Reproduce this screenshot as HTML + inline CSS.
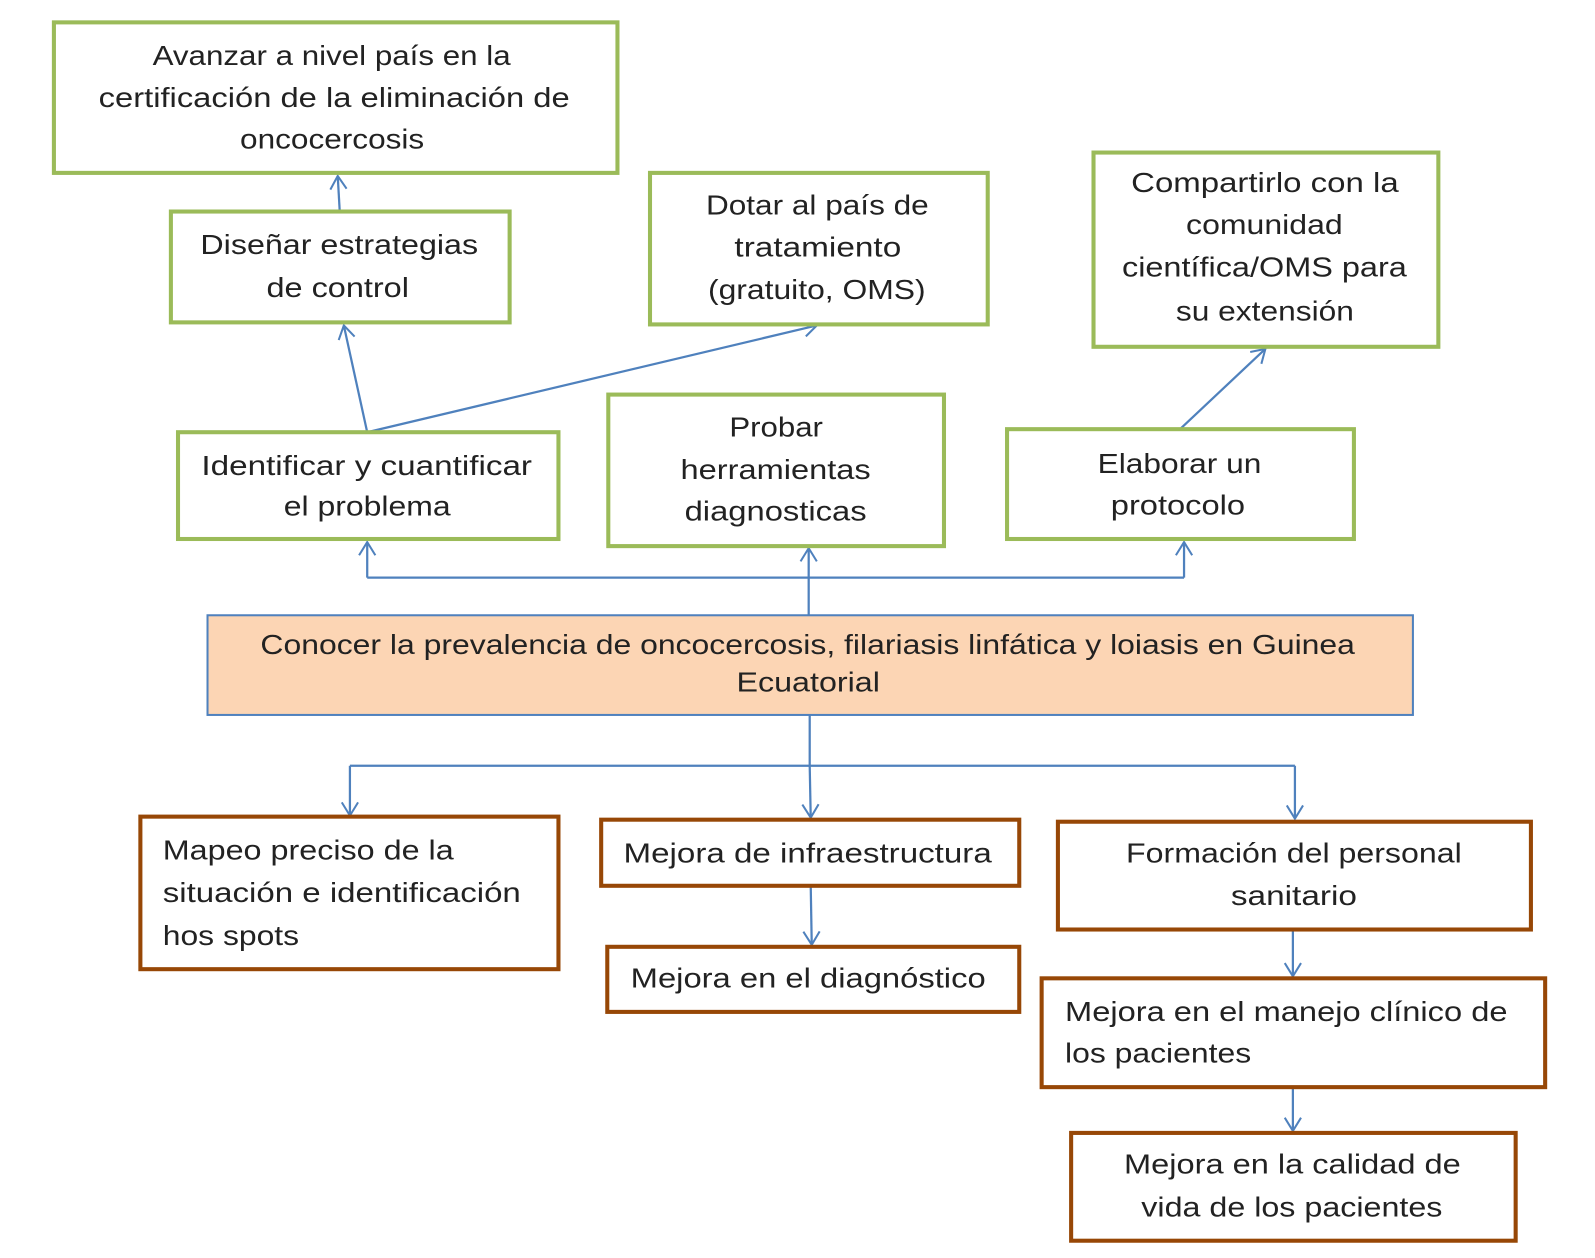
<!DOCTYPE html>
<html><head><meta charset="utf-8"><style>
html,body{margin:0;padding:0;background:#fff;}
svg{display:block;}
text{font-family:"Liberation Sans",sans-serif;font-size:27px;fill:#222;}
</style></head><body>
<svg width="1595" height="1258" viewBox="0 0 1568 1237" preserveAspectRatio="none" xmlns="http://www.w3.org/2000/svg">
<defs>
<marker id="ah" markerUnits="userSpaceOnUse" markerWidth="24" markerHeight="24" refX="14" refY="10" orient="auto">
<path d="M1,2 L14,10 L1,18" fill="none" stroke="#4f81bd" stroke-width="2"/>
</marker>
</defs>
<g fill="none" stroke="#4f81bd" stroke-width="2.2">
<line x1="334" y1="208" x2="332" y2="173" marker-end="url(#ah)"/>
<line x1="361" y1="425" x2="338" y2="320" marker-end="url(#ah)"/>
<line x1="361" y1="425" x2="803" y2="320" marker-end="url(#ah)"/>
<line x1="1160" y1="422" x2="1244" y2="343" marker-end="url(#ah)"/>
<polyline points="795,605 795,568"/>
<polyline points="361,568 1164,568"/>
<line x1="361" y1="568" x2="361" y2="533" marker-end="url(#ah)"/>
<line x1="795" y1="568" x2="795" y2="539" marker-end="url(#ah)"/>
<line x1="1164" y1="568" x2="1164" y2="533" marker-end="url(#ah)"/>
<polyline points="796,703 796,753"/>
<polyline points="344,753 1273,753"/>
<line x1="344" y1="753" x2="344" y2="802" marker-end="url(#ah)"/>
<line x1="796" y1="753" x2="797" y2="804" marker-end="url(#ah)"/>
<line x1="1273" y1="753" x2="1273" y2="805" marker-end="url(#ah)"/>
<line x1="797" y1="871" x2="798" y2="929" marker-end="url(#ah)"/>
<line x1="1271" y1="914" x2="1271" y2="960" marker-end="url(#ah)"/>
<line x1="1271" y1="1069" x2="1271" y2="1112" marker-end="url(#ah)"/>
</g>
<g fill="#fff" stroke="#9bbb59" stroke-width="4">
<rect x="53" y="22" width="554" height="148"/>
<rect x="168" y="208" width="333" height="109"/>
<rect x="639" y="170" width="332" height="149"/>
<rect x="1075" y="150" width="339" height="191"/>
<rect x="175" y="425" width="374" height="105"/>
<rect x="598" y="388" width="330" height="149"/>
<rect x="990" y="422" width="341" height="108"/>
</g>
<rect x="204" y="605" width="1185" height="98" fill="#fcd5b4" stroke="#4f81bd" stroke-width="2"/>
<g fill="#fff" stroke="#974706" stroke-width="4">
<rect x="138" y="803" width="411" height="150"/>
<rect x="591" y="806" width="411" height="65"/>
<rect x="597" y="931" width="405" height="64"/>
<rect x="1040" y="808" width="465" height="106"/>
<rect x="1024" y="962" width="495" height="107"/>
<rect x="1053" y="1114" width="437" height="106"/>
</g>
<g>
<text x="150" y="64" textLength="352" lengthAdjust="spacingAndGlyphs">Avanzar a nivel país en la</text>
<text x="97" y="105" textLength="463" lengthAdjust="spacingAndGlyphs">certificación de la eliminación de</text>
<text x="236" y="146" textLength="181" lengthAdjust="spacingAndGlyphs">oncocercosis</text>
<text x="197" y="250" textLength="273" lengthAdjust="spacingAndGlyphs">Diseñar estrategias</text>
<text x="262" y="292" textLength="140" lengthAdjust="spacingAndGlyphs">de control</text>
<text x="694" y="211" textLength="219" lengthAdjust="spacingAndGlyphs">Dotar al país de</text>
<text x="722" y="252" textLength="164" lengthAdjust="spacingAndGlyphs">tratamiento</text>
<text x="696" y="294" textLength="214" lengthAdjust="spacingAndGlyphs">(gratuito, OMS)</text>
<text x="1112" y="189" textLength="263" lengthAdjust="spacingAndGlyphs">Compartirlo  con la</text>
<text x="1166" y="230" textLength="154" lengthAdjust="spacingAndGlyphs">comunidad</text>
<text x="1103" y="272" textLength="280" lengthAdjust="spacingAndGlyphs">científica/OMS para</text>
<text x="1156" y="315" textLength="175" lengthAdjust="spacingAndGlyphs">su extensión</text>
<text x="198" y="467" textLength="325" lengthAdjust="spacingAndGlyphs">Identificar y cuantificar</text>
<text x="279" y="507" textLength="164" lengthAdjust="spacingAndGlyphs">el problema</text>
<text x="717" y="429" textLength="92" lengthAdjust="spacingAndGlyphs">Probar</text>
<text x="669" y="471" textLength="187" lengthAdjust="spacingAndGlyphs">herramientas</text>
<text x="673" y="512" textLength="179" lengthAdjust="spacingAndGlyphs">diagnosticas</text>
<text x="1079" y="465" textLength="161" lengthAdjust="spacingAndGlyphs">Elaborar un</text>
<text x="1092" y="506" textLength="132" lengthAdjust="spacingAndGlyphs">protocolo</text>
<text x="256" y="643" textLength="1076" lengthAdjust="spacingAndGlyphs">Conocer  la prevalencia de oncocercosis, filariasis linfática y loiasis en Guinea</text>
<text x="724" y="680" textLength="141" lengthAdjust="spacingAndGlyphs">Ecuatorial</text>
<text x="160" y="845" textLength="286" lengthAdjust="spacingAndGlyphs">Mapeo preciso de la</text>
<text x="160" y="887" textLength="352" lengthAdjust="spacingAndGlyphs">situación e identificación</text>
<text x="160" y="929" textLength="134" lengthAdjust="spacingAndGlyphs">hos spots</text>
<text x="613" y="848" textLength="362" lengthAdjust="spacingAndGlyphs">Mejora  de infraestructura</text>
<text x="620" y="971" textLength="349" lengthAdjust="spacingAndGlyphs">Mejora  en el diagnóstico</text>
<text x="1107" y="848" textLength="330" lengthAdjust="spacingAndGlyphs">Formación  del personal</text>
<text x="1210" y="890" textLength="124" lengthAdjust="spacingAndGlyphs">sanitario</text>
<text x="1047" y="1004" textLength="435" lengthAdjust="spacingAndGlyphs">Mejora  en el manejo clínico de</text>
<text x="1047" y="1045" textLength="183" lengthAdjust="spacingAndGlyphs">los pacientes</text>
<text x="1105" y="1154" textLength="331" lengthAdjust="spacingAndGlyphs">Mejora  en la calidad de</text>
<text x="1122" y="1196" textLength="296" lengthAdjust="spacingAndGlyphs">vida de los pacientes</text>
</g>
</svg>
</body></html>
